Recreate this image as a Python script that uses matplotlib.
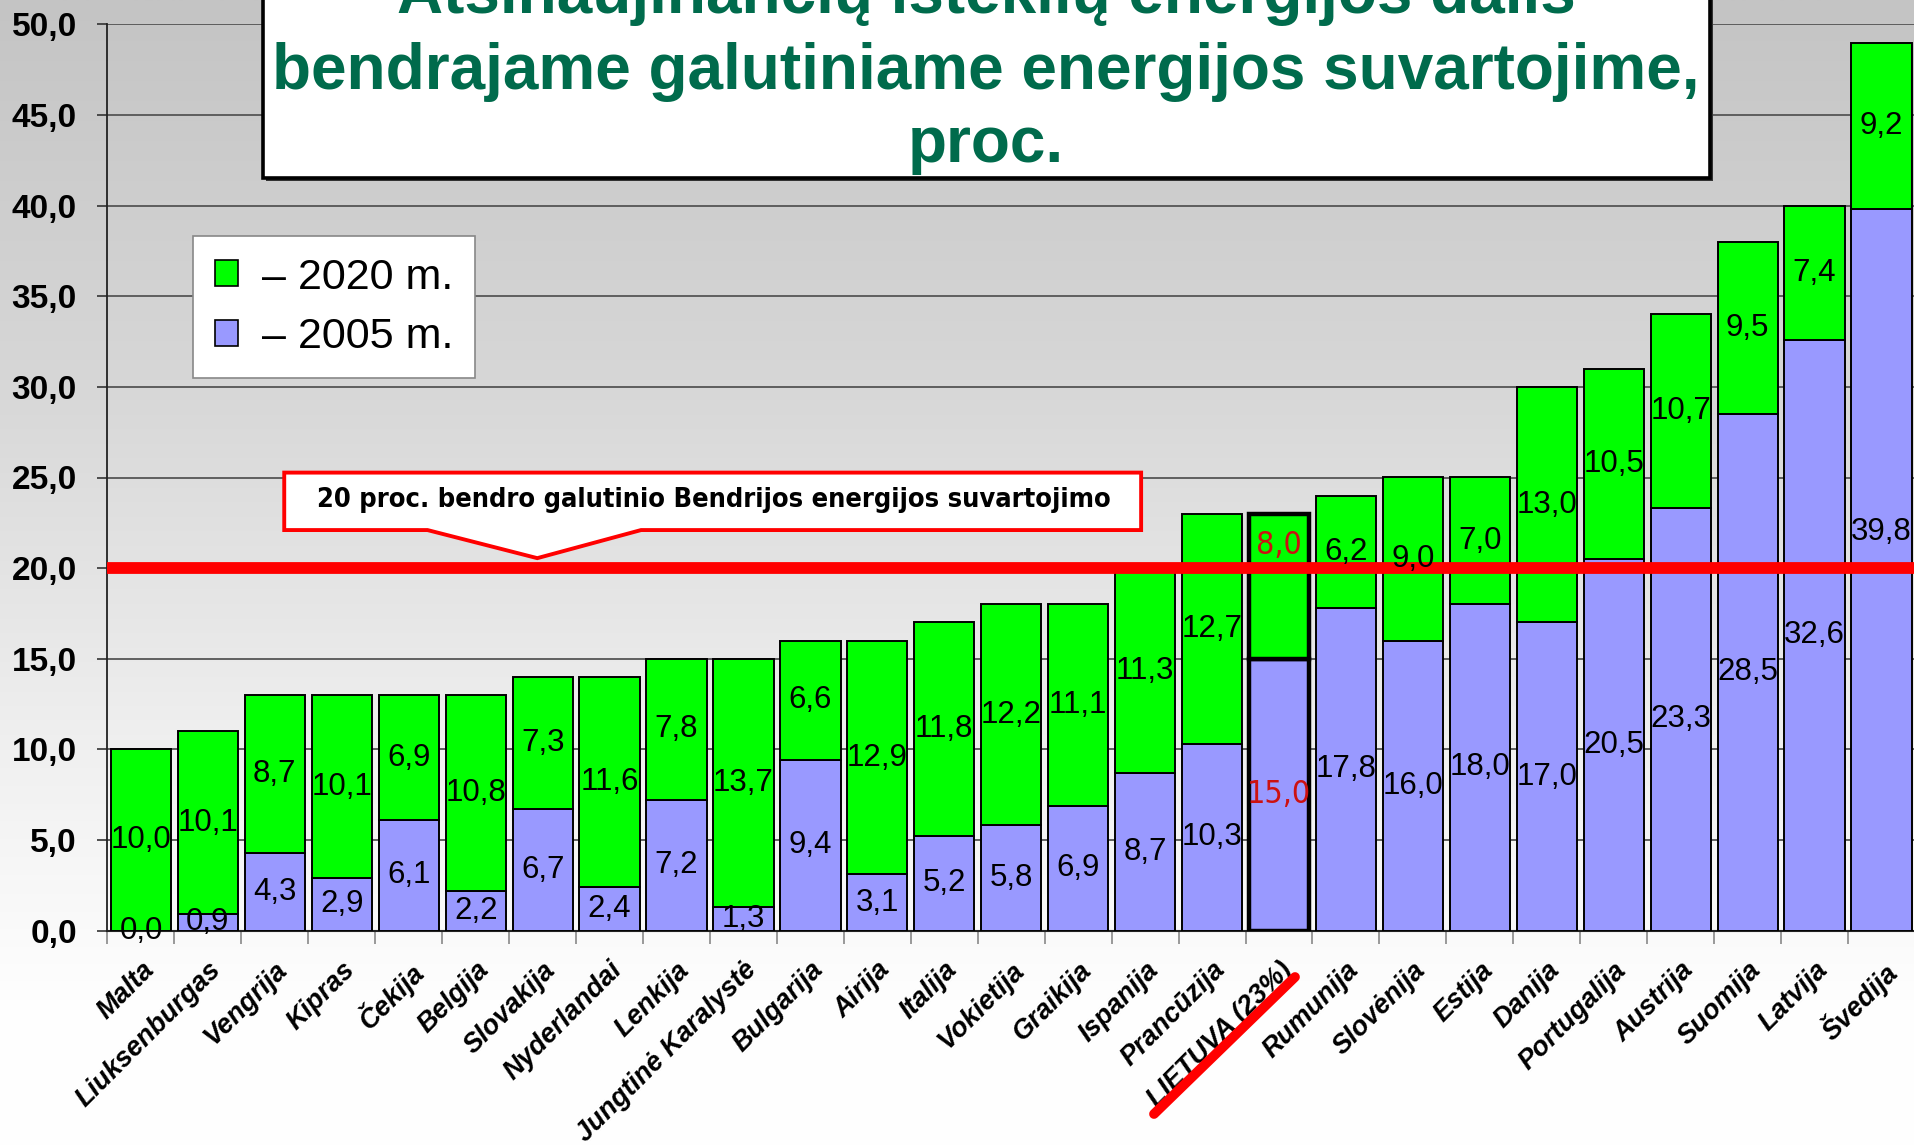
import numpy as np
import matplotlib
matplotlib.use("Agg")
import matplotlib.pyplot as plt
from matplotlib.patches import Patch, Rectangle, Polygon
from matplotlib.lines import Line2D
from matplotlib import font_manager as fm

# ---------------- data ----------------
countries = ["Malta", "Liuksenburgas", "Vengrija", "Kipras", "Čekija", "Belgija",
             "Slovakija", "Nyderlandai", "Lenkija", "Jungtinė Karalystė", "Bulgarija",
             "Airija", "Italija", "Vokietija", "Graikija", "Ispanija", "Prancūzija",
             "LIETUVA (23%)", "Rumunija", "Slovėnija", "Estija", "Danija", "Portugalija",
             "Austrija", "Suomija", "Latvija", "Švedija"]
share_2005 = [0.0, 0.9, 4.3, 2.9, 6.1, 2.2, 6.7, 2.4, 7.2, 1.3, 9.4, 3.1, 5.2, 5.8,
              6.9, 8.7, 10.3, 15.0, 17.8, 16.0, 18.0, 17.0, 20.5, 23.3, 28.5, 32.6, 39.8]
increase_2020 = [10.0, 10.1, 8.7, 10.1, 6.9, 10.8, 7.3, 11.6, 7.8, 13.7, 6.6, 12.9,
                 11.8, 12.2, 11.1, 11.3, 12.7, 8.0, 6.2, 9.0, 7.0, 13.0, 10.5, 10.7,
                 9.5, 7.4, 9.2]
yticks = [0, 5, 10, 15, 20, 25, 30, 35, 40, 45, 50]
series_labels = ["– 2020 m.", "– 2005 m."]
highlight = "LIETUVA (23%)"
target = 20.0
target_text = "20 proc. bendro galutinio Bendrijos energijos suvartojimo"
title_lines = ["Atsinaujinančių išteklių energijos dalis",
               "bendrajame galutiniame energijos suvartojime,",
               "proc."]

# ---------------- fonts ----------------
plt.rcParams["font.family"] = ["Liberation Sans", "DejaVu Sans"]


def find_narrow(bold):
    cands = []
    for f in fm.fontManager.ttflist:
        if f.style != "normal":
            continue
        nm = f.name.lower()
        isnar = ("narrow" in nm or "condensed" in nm or
                 str(f.stretch) in ("condensed", "semi-condensed", "extra-condensed"))
        if not isnar:
            continue
        w = f.weight if isinstance(f.weight, int) else (700 if "bold" in str(f.weight) else 400)
        score = abs(w - (700 if bold else 400))
        if "liberation" in nm:
            score -= 50
        cands.append((score, f.fname))
    if cands:
        cands.sort()
        return fm.FontProperties(fname=cands[0][1])
    return fm.FontProperties(family="Liberation Sans", weight="bold" if bold else "normal")


narrow_reg = find_narrow(False)
narrow_bold = find_narrow(True)

GREEN = "#00ff00"
LAV = "#9999ff"

W, H = 1915, 1146
fig = plt.figure(figsize=(W / 100, H / 100), dpi=100)

# background gradient
bg = fig.add_axes([0, 0, 1, 1], zorder=-10)
ys = np.linspace(0, H, 500)
vals = np.interp(ys, [0, 400, 750, 930, 1000, H], [196, 216, 240, 250, 254, 255]) / 255.0
img = np.dstack([np.repeat(vals[:, None], 2, axis=1)] * 3)
bg.imshow(img, aspect="auto", extent=[0, 1, 0, 1], origin="upper")
bg.axis("off")

# main axes
ax = fig.add_axes([107.5 / W, 1 - 930.6 / H, 1 - 107.5 / W, (930.6 - 24.4) / H])
ax.set_facecolor("none")
x = np.arange(len(countries))
bw = 0.9
b1 = ax.bar(x, share_2005, bw, color=LAV, edgecolor="black", lw=1.4, zorder=3)
b2 = ax.bar(x, increase_2020, bw, bottom=share_2005, color=GREEN, edgecolor="black",
            lw=1.4, zorder=3)
hi = countries.index(highlight)
for p in (b1[hi], b2[hi]):
    p.set_linewidth(3.2)


def fmt(v):
    return f"{v:.1f}".replace(".", ",")


last = len(countries) - 1
for i, (a, b) in enumerate(zip(share_2005, increase_2020)):
    if i == hi:
        fp = narrow_reg.copy()
        fp.set_size(23)
        ax.text(i, a / 2, fmt(a), ha="center", va="center", color="#cc1111",
                zorder=6, fontproperties=fp)
        ax.text(i, a + b * 0.78, fmt(b), ha="center", va="center",
                color="#cc1111", zorder=6, fontproperties=fp)
    else:
        ya = a / 2 + (2.1 if i == last else 0)
        ax.text(i, ya, fmt(a), ha="center", va="center", fontsize=22.5, zorder=6)
        ax.text(i, a + b / 2, fmt(b), ha="center", va="center", fontsize=22.5, zorder=6)

ax.set_xlim(-0.5, -0.5 + 1807.5 / 66.99)
ax.set_ylim(0, 50)
ax.set_yticks(yticks)
ax.set_yticklabels([fmt(v) for v in yticks], fontsize=24, fontweight="bold")
ax.tick_params(axis="y", length=7, width=1.2, color="#333333", pad=15)
ax.set_xticks(x)
ax.set_xticklabels(countries, rotation=45, ha="right", rotation_mode="anchor",
                   fontsize=19.5, fontweight="bold", fontstyle="italic")
ax.set_xticks(np.arange(len(countries) + 1) - 0.5, minor=True)
ax.tick_params(axis="x", which="major", length=0, pad=19)
ax.tick_params(axis="x", which="minor", length=9, width=1.2, color="#888888")
ax.grid(axis="y", color="#555555", lw=1.3, zorder=1)
ax.set_axisbelow(True)
for s in ("top", "right"):
    ax.spines[s].set_visible(False)
ax.spines["left"].set_color("#222222")
ax.spines["left"].set_linewidth(1.3)
ax.spines["bottom"].set_color("#222222")
ax.spines["bottom"].set_linewidth(1.5)

# target line
ax.axhline(target, color="#ff0000", lw=8.5, zorder=4)

# callout
call = Polygon([(2.14, 25.27), (14.94, 25.27), (14.94, 22.1), (7.47, 22.1),
                (5.92, target + 0.55), (4.28, 22.1), (2.14, 22.1)], closed=True,
               facecolor="white", edgecolor="#ff0000", lw=2.8, zorder=5)
ax.add_patch(call)
cfp = narrow_bold.copy()
cfp.set_size(19.5)
ax.text(8.56, 23.75, target_text, ha="center", va="center", fontproperties=cfp,
        zorder=6)

# legend
handles = [Patch(facecolor=GREEN, edgecolor="black", lw=1.2),
           Patch(facecolor=LAV, edgecolor="black", lw=1.2)]
leg = ax.legend(handles, series_labels, loc="upper left",
                bbox_to_anchor=(193 / W, 1 - 236 / H), bbox_transform=fig.transFigure,
                fontsize=31, frameon=True, fancybox=False, framealpha=1,
                edgecolor="#888888", handlelength=0.55, handleheight=0.55,
                handletextpad=0.55, labelspacing=0.45, borderpad=0.5,
                borderaxespad=0)
leg.get_frame().set_linewidth(1.2)
leg.set_zorder(7)

# title box
x0, x1, yb = 262.6 / W, 1710 / W, 1 - 178 / H
fig.add_artist(Rectangle((x0 + 3 / W, yb - 3 / H), x1 - x0, 1.1 - yb,
                         transform=fig.transFigure, facecolor="#333333",
                         edgecolor="none", zorder=8))
fig.add_artist(Rectangle((x0, yb), x1 - x0, 1.1 - yb, transform=fig.transFigure,
                         facecolor="white", edgecolor="black", lw=2.6, zorder=9))
for line, yy in zip(title_lines, [1 - 13 / H, 1 - 89 / H, 1 - 162 / H]):
    fig.text(0.515, yy, line, ha="center", va="baseline", fontsize=46,
             fontweight="bold", color="#006b4c", zorder=10)

# strike-through on highlighted label
fig.add_artist(Line2D([1154 / W, 1295 / W], [1 - 1114 / H, 1 - 977 / H],
                      color="#ff0000", lw=7, solid_capstyle="round", zorder=11))

fig.savefig("out.png", dpi=100)
